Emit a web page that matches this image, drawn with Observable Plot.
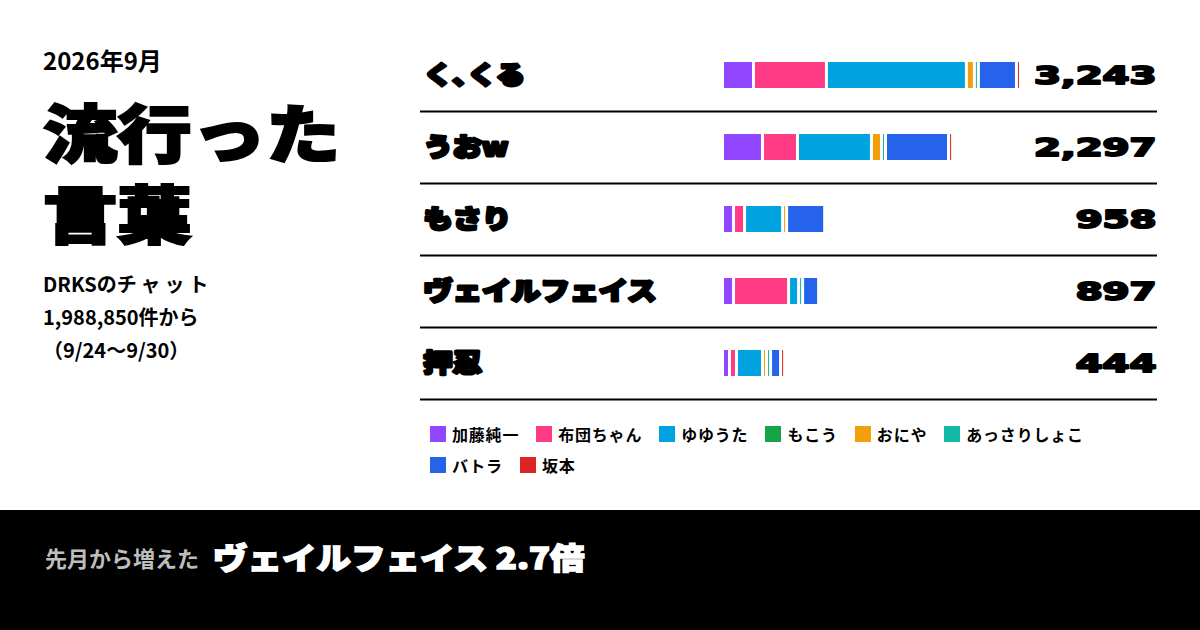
<!DOCTYPE html>
<html>
<head>
<meta charset="utf-8">
<script src="https://cdn.jsdelivr.net/npm/d3@7"></script>
<script src="https://cdn.jsdelivr.net/npm/@observablehq/plot@0.6"></script>
<style>
  html, body { margin: 0; padding: 0; background: #fff; }
  #root { position: relative; width: 1200px; height: 630px; overflow: hidden; background: #fff;
    font-family: "Noto Sans CJK JP", "Noto Sans", sans-serif; color: #000; }
  .abs { position: absolute; white-space: nowrap; }
  #month { left: 43px; top: 48px; font-size: 24px; line-height: 1; font-weight: 700; }
  .title { left: 43px; font-size: 63px; line-height: 63px; font-weight: 900;
    -webkit-text-stroke: 2.2px #000; transform: scaleX(1.18); transform-origin: left top; }
  #title1 { top: 98px; }
  #title2 { top: 179px; }
  #sub { left: 43px; top: 267px; font-size: 20px; line-height: 33px; font-weight: 700; }
  #sub .sp { letter-spacing: 4px; }
  #chart { left: 420px; top: 39px; }
  #legend { left: 430px; top: 418px; width: 700px; }
  #footer { left: 0; top: 510px; width: 1200px; height: 120px; background: #000; }
  #foot1 { left: 45px; top: 542px; font-size: 22px; line-height: 30px; font-weight: 700; color: #bdbdbd; }
  #foot2 { left: 213px; top: 538px; font-size: 30px; line-height: 36px; font-weight: 900; color: #fff;
    -webkit-text-stroke: 1.5px #fff; transform: scaleX(1.15); transform-origin: left top; }
  .lg-swatches-wrap { display: flex; flex-wrap: wrap; align-items: center; min-height: 0 !important; }
  .lg-swatch { height: 31px; margin-right: 17px !important; font-size: 16px; font-weight: 700; letter-spacing: 0.8px;
    font-family: "Noto Sans CJK JP", sans-serif; color: #000; }
  .lg-swatch svg { margin-right: 6px !important; }
</style>
</head>
<body>
<div id="root">
  <div class="abs" id="month">2026年9月</div>
  <div class="abs title" id="title1">流行った</div>
  <div class="abs title" id="title2">言葉</div>
  <div class="abs" id="sub">DRKSの<span class="sp">チャット</span><br>1,988,850件から<br>（9/24〜9/30）</div>
  <div class="abs" id="chart"></div>
  <div class="abs" id="legend"></div>
  <div class="abs" id="footer"></div>
  <div class="abs" id="foot1">先月から増えた</div>
  <div class="abs" id="foot2">ヴェイルフェイス 2.7倍</div>
</div>
<script>
// Words (rows) and their total counts
const words = ["く､くる", "うおw", "もさり", "ヴェイルフェイス", "押忍"];
const totals = [3243, 2297, 958, 897, 444];

// Members (series) and colours
const members = ["加藤純一", "布団ちゃん", "ゆゆうた", "もこう", "おにや", "あっさりしょこ", "バトラ", "坂本"];
const colors = ["#9146ff", "#ff3b86", "#00a3e0", "#16a34a", "#f59e0b", "#14b8a6", "#2563eb", "#dc2626"];

// Per-member counts for each word (same order as words)
const kato    = [337, 435, 120, 120, 76];
const futon   = [794, 381, 120, 599, 76];
const yuyuta  = [1523, 805, 414, 109, 283];
const mokou   = [0, 0, 0, 0, 0];
const oniya   = [87, 109, 44, 0, 44];
const assari  = [44, 44, 0, 44, 44];
const batora  = [414, 686, 414, 174, 109];
const sakamoto = [44, 44, 0, 0, 44];

const series = [kato, futon, yuyuta, mokou, oniya, assari, batora, sakamoto];
const rows = [];
words.forEach((w, i) => {
  members.forEach((m, j) => {
    rows.push({word: w, member: m, value: series[j][i]});
  });
});
const labelRows = words.map((w, i) => ({word: w, total: totals[i]}));

const chart = Plot.plot({
  width: 737,
  height: 362,
  marginLeft: 304,
  marginRight: 135,
  marginTop: 0,
  marginBottom: 2,
  x: {domain: [0, 3243], axis: null},
  y: {domain: words, axis: null, padding: 0},
  color: {domain: members, range: colors},
  style: {background: "transparent", overflow: "visible"},
  marks: [
    Plot.barX(rows.filter(d => d.value > 0), Plot.stackX({
      x: "value", y: "word", fill: "member", order: null,
      insetTop: 23, insetBottom: 23, insetRight: 3
    })),
    Plot.ruleY(labelRows, {y: "word", dy: 36, stroke: "#000", strokeWidth: 2, insetLeft: -304, insetRight: -135}),
    Plot.text(labelRows, {
      y: "word", text: "word", frameAnchor: "left", textAnchor: "start", dx: -301,
      fontFamily: "Noto Sans CJK JP", fontWeight: 900, fontSize: 25, fill: "#000",
      stroke: "#000", strokeWidth: 2.8
    }),
    Plot.text(labelRows, {
      y: "word", text: d => d3.format(",")(d.total), frameAnchor: "right", textAnchor: "end", dx: 134,
      fontFamily: "DejaVu Sans", fontWeight: 700, fontSize: 25, fill: "#000",
      stroke: "#000", strokeWidth: 2
    })
  ]
});
document.getElementById("chart").appendChild(chart);

// horizontal stretch (around each text's anchor) to mimic the extended display faces
const textGroups = chart.querySelectorAll('g[aria-label="text"]');
const stretch = [1.17, 1.55];
const anchorSide = ["start", "end"];
textGroups.forEach((g, k) => {
  Array.from(g.querySelectorAll("text")).forEach(t => {
    const r = t.getBoundingClientRect();
    const pt = chart.createSVGPoint();
    pt.x = anchorSide[k] === "start" ? r.left : r.right;
    pt.y = r.top + r.height / 2;
    const q = pt.matrixTransform(t.parentNode.getScreenCTM().inverse());
    const wrap = document.createElementNS("http://www.w3.org/2000/svg", "g");
    wrap.setAttribute("transform", `translate(${q.x},${q.y}) scale(${stretch[k]},1) translate(${-q.x},${-q.y})`);
    t.parentNode.insertBefore(wrap, t);
    wrap.appendChild(t);
  });
});

const legend = Plot.legend({
  color: {domain: members, range: colors},
  legend: "swatches",
  swatchSize: 16,
  className: "lg"
});
document.getElementById("legend").appendChild(legend);
</script>
</body>
</html>
